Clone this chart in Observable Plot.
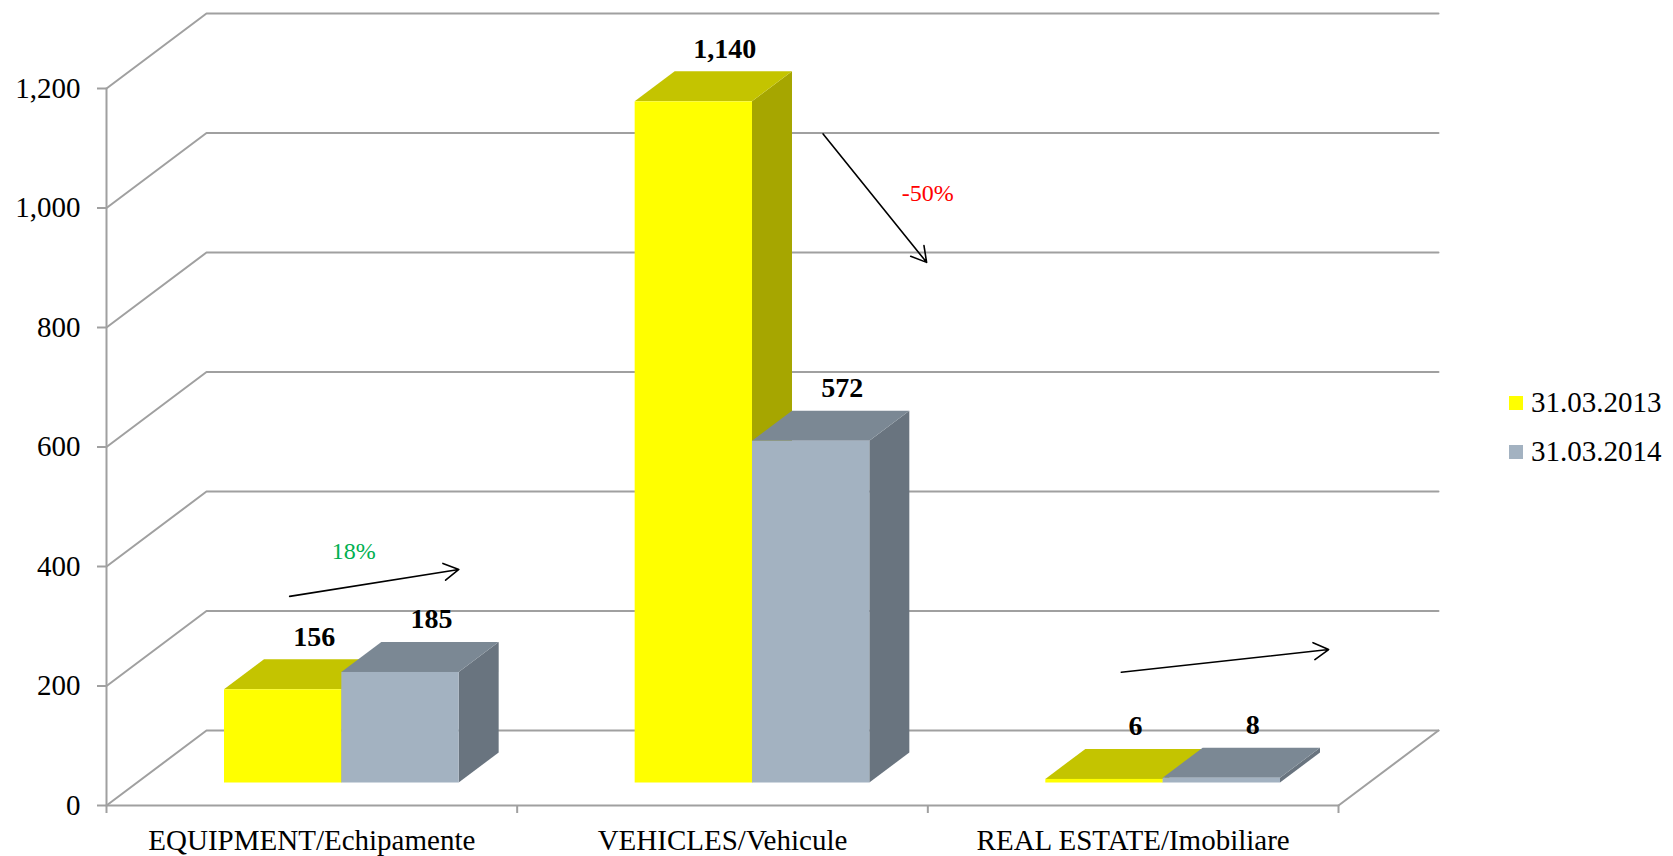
<!DOCTYPE html>
<html><head><meta charset="utf-8">
<script src="https://cdn.jsdelivr.net/npm/d3@7"></script>
<script src="https://cdn.jsdelivr.net/npm/@observablehq/plot@0.6"></script>
<style>
body{margin:0;background:#fff;font-family:'Liberation Serif','Times New Roman',serif;}
#wrap{position:relative;width:1673px;height:856px;}
#legend{position:absolute;left:1509px;top:378px;font-size:29px;color:#000;font-family:'Liberation Serif','Times New Roman',serif;}
.row{display:flex;align-items:center;height:49px;}
.sw{width:14px;height:14px;margin-right:8px;}
svg text{font-family:'Liberation Serif','Times New Roman',serif;}
</style></head><body><div id="wrap"><div id="chart"></div><div id="legend"></div></div>
<script>
// ---- data ----
const categories = ["EQUIPMENT/Echipamente", "VEHICLES/Vehicule", "REAL ESTATE/Imobiliare"];
const seriesNames = ["31.03.2013", "31.03.2014"];
const values2013 = [156, 1140, 6];
const values2014 = [185, 572, 8];
const yTicks = [0, 200, 400, 600, 800, 1000, 1200];
// change annotations (data space: category units, value units)
const changeArrows = [
  {x1: 0.446, y1: 350, x2: 0.858, y2: 395},
  {x1: 1.745, y1: 1124, x2: 1.997, y2: 909},
  {x1: 2.471, y1: 223, x2: 2.976, y2: 261}
];
const changeLabels = [
  {x: 0.602, y: 412, text: "18%", color: "#00B050"},
  {x: 2.0, y: 1011, text: "-50%", color: "#FF0000"}
];

// ---- styling / projection constants ----
const FONT = "Liberation Serif";
const DX = 0.2435;   // full depth, in category units
const DY = 125.5;    // full depth, in value units
const Z0 = 0.3, Z1 = 0.7; // bar depth range
const W = 1 / 3.5;   // bar width (gap 150%)
const faceColors = [
  {front: "#FFFF00", top: "#C4C400", side: "#A6A600"},
  {front: "#A3B2C1", top: "#7B8894", side: "#69747F"}
];
const GRID = "#a0a0a0";

const seriesValues = [values2013, values2014];
const bars = [];
seriesValues.forEach((vals, s) => vals.forEach((v, i) => {
  const xl = i + 0.5 - W + s * W, xr = xl + W;
  bars.push({s, i, v, xl, xr, id: s + "-" + i});
}));

// back wall + left wall gridlines
const gridPts = yTicks.flatMap(t => [
  {t, x: 0, y: t}, {t, x: DX, y: t + DY}, {t, x: 3 + DX, y: t + DY}
]);
const floorRight = [{x: 3, y: 0}, {x: 3 + DX, y: DY}];
const floorFront = [{x: 0, y: 0}, {x: 3, y: 0}];
const yAxisLine = [{x: 0, y: 0}, {x: 0, y: 1200}];

const marks = [
  Plot.line(gridPts, {x: "x", y: "y", z: "t", stroke: GRID, strokeWidth: 2}),
  Plot.line(floorRight, {x: "x", y: "y", stroke: GRID, strokeWidth: 2}),
  Plot.line(floorFront, {x: "x", y: "y", stroke: GRID, strokeWidth: 2}),
  Plot.line(yAxisLine, {x: "x", y: "y", stroke: GRID, strokeWidth: 2}),
  Plot.axisY({ticks: yTicks, tickFormat: d3.format(","), tickSize: 9, tickPadding: 17, fontSize: 29, fontFamily: FONT, stroke: GRID, strokeWidth: 2, fill: "black", label: null}),
  Plot.axisX({ticks: [0, 1, 2, 3], tickFormat: () => "", tickSize: 8, stroke: GRID, strokeWidth: 2, label: null}),
  Plot.axisX({ticks: [0.5, 1.5, 2.5], tickFormat: d => categories[Math.floor(d)], tickSize: 0, tickPadding: 24, fontSize: 29, fontFamily: FONT, fill: "black", label: null})
];

for (let s = 0; s < 2; s++) {
  const b = bars.filter(d => d.s === s);
  const side = b.flatMap(d => [
    {id: d.id, x: d.xr + Z0 * DX, y1: Z0 * DY, y2: d.v + Z0 * DY},
    {id: d.id, x: d.xr + Z1 * DX, y1: Z1 * DY, y2: d.v + Z1 * DY}
  ]);
  const top = b.flatMap(d => [
    {id: d.id, x: d.xl + Z0 * DX, y1: d.v + Z0 * DY, y2: d.v + Z0 * DY},
    {id: d.id, x: d.xl + Z1 * DX, y1: d.v + Z0 * DY, y2: d.v + Z1 * DY},
    {id: d.id, x: d.xr + Z0 * DX, y1: d.v + Z0 * DY, y2: d.v + Z1 * DY},
    {id: d.id, x: d.xr + Z1 * DX, y1: d.v + Z1 * DY, y2: d.v + Z1 * DY}
  ]);
  marks.push(
    Plot.areaY(side, {x: "x", y1: "y1", y2: "y2", z: "id", fill: faceColors[s].side}),
    Plot.areaY(top, {x: "x", y1: "y1", y2: "y2", z: "id", fill: faceColors[s].top}),
    Plot.rect(b, {x1: d => d.xl + Z0 * DX, x2: d => d.xr + Z0 * DX, y1: Z0 * DY, y2: d => d.v + Z0 * DY, fill: faceColors[s].front})
  );
}

marks.push(
  Plot.text(bars, {x: d => (d.xl + d.xr) / 2 + Z0 * DX, y: d => d.v + Z0 * DY, text: d => d3.format(",")(d.v),
    dx: 31, dy: -44, lineAnchor: "bottom", fontSize: 28, fontWeight: "bold", fontFamily: FONT, fill: "black"}),
  Plot.arrow(changeArrows, {x1: "x1", y1: "y1", x2: "x2", y2: "y2", stroke: "black", strokeWidth: 1.6, headLength: 16, headAngle: 60}),
  Plot.text(changeLabels, {x: "x", y: "y", text: "text", fill: d => d.color, lineAnchor: "bottom", fontSize: 24, fontFamily: FONT})
);

const chart = Plot.plot({
  width: 1673, height: 856,
  marginLeft: 106, marginRight: 335, marginTop: 88, marginBottom: 51,
  x: {domain: [0, 3], axis: null},
  y: {domain: [0, 1200], axis: null},
  color: {type: "identity"},
  style: {fontFamily: FONT, background: "white", overflow: "visible", color: "black"},
  marks
});
document.getElementById("chart").appendChild(chart);

// legend
const legend = document.getElementById("legend");
seriesNames.forEach((name, s) => {
  const row = document.createElement("div");
  row.className = "row";
  const sw = document.createElement("div");
  sw.className = "sw";
  sw.style.background = faceColors[s].front;
  const lab = document.createElement("span");
  lab.textContent = name;
  row.appendChild(sw); row.appendChild(lab);
  legend.appendChild(row);
});
</script>
</body></html>
